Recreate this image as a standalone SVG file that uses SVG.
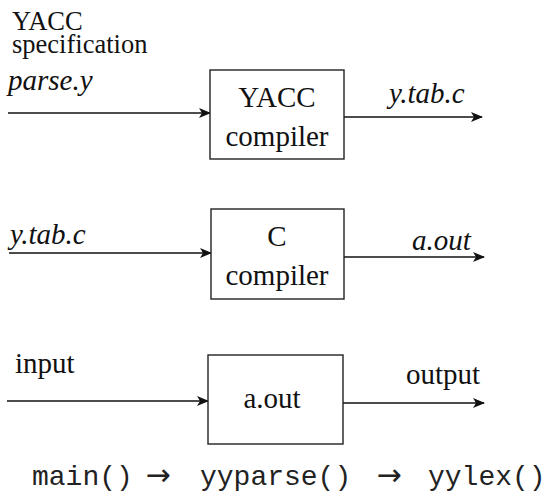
<svg xmlns="http://www.w3.org/2000/svg" width="548" height="500" viewBox="0 0 548 500">
  <style>
    .lbl { font-family: "Liberation Serif", "Times New Roman", serif; font-size: 29px; fill: #111; }
    .head { font-size: 26.5px; }
    .it { font-style: italic; }
    .mid { text-anchor: middle; }
    .box { fill: #fff; stroke: #222; stroke-width: 1.4; }
    .wire { fill: none; stroke: #111; stroke-width: 1.4; marker-end: url(#head); }
    .code { font-family: "Liberation Mono", "Courier New", monospace; font-size: 28px; fill: #222; }
    .sym { font-family: "DejaVu Sans", sans-serif; font-size: 30px; fill: #222; text-anchor: middle; }
  </style>
  <defs>
    <marker id="head" viewBox="0 0 12 10" refX="11" refY="5" markerWidth="12" markerHeight="10" markerUnits="userSpaceOnUse" orient="auto">
      <path d="M0,0 L12,5 L0,10 L3,5 Z" fill="#111"/>
    </marker>
  </defs>

  <!-- connectors -->
  <g id="connectors">
    <line class="wire" x1="8" y1="113" x2="210" y2="113"/>
    <line class="wire" x1="344" y1="117" x2="482" y2="117"/>
    <line class="wire" x1="9" y1="253" x2="211" y2="253"/>
    <line class="wire" x1="344" y1="257" x2="484" y2="257"/>
    <line class="wire" x1="7" y1="401" x2="208" y2="401"/>
    <line class="wire" x1="343" y1="403" x2="484" y2="403"/>
  </g>

  <!-- edge labels -->
  <g id="labels">
    <text class="lbl head"><tspan x="12" y="30">YACC</tspan><tspan x="12" y="53">specification</tspan></text>
    <text class="lbl it" x="8" y="90">parse.y</text>
    <text class="lbl it" x="389" y="103">y.tab.c</text>
    <text class="lbl it" x="10" y="244">y.tab.c</text>
    <text class="lbl it" x="412" y="250">a.out</text>
    <text class="lbl" x="15" y="373">input</text>
    <text class="lbl" x="406" y="384">output</text>
  </g>

  <!-- YACC compiler -->
  <g id="yacc">
    <rect class="box" x="210" y="70" width="134" height="89"/>
    <text class="lbl mid" x="277" y="107">YACC</text>
    <text class="lbl mid" x="277" y="146">compiler</text>
  </g>

  <!-- C compiler -->
  <g id="cc">
    <rect class="box" x="211" y="209" width="133" height="90"/>
    <text class="lbl mid" x="277" y="246">C</text>
    <text class="lbl mid" x="277" y="285">compiler</text>
  </g>

  <!-- generated program -->
  <g id="aout">
    <rect class="box" x="208" y="355" width="135" height="89"/>
    <text class="lbl mid" x="272" y="408">a.out</text>
  </g>

  <!-- call chain -->
  <g id="callchain">
    <text class="code" x="32" y="485">main()</text>
    <text class="sym" x="158" y="485">→</text>
    <text class="code" x="200" y="485">yyparse()</text>
    <text class="sym" x="389" y="485">→</text>
    <text class="code" x="428" y="485">yylex()</text>
  </g>
</svg>
